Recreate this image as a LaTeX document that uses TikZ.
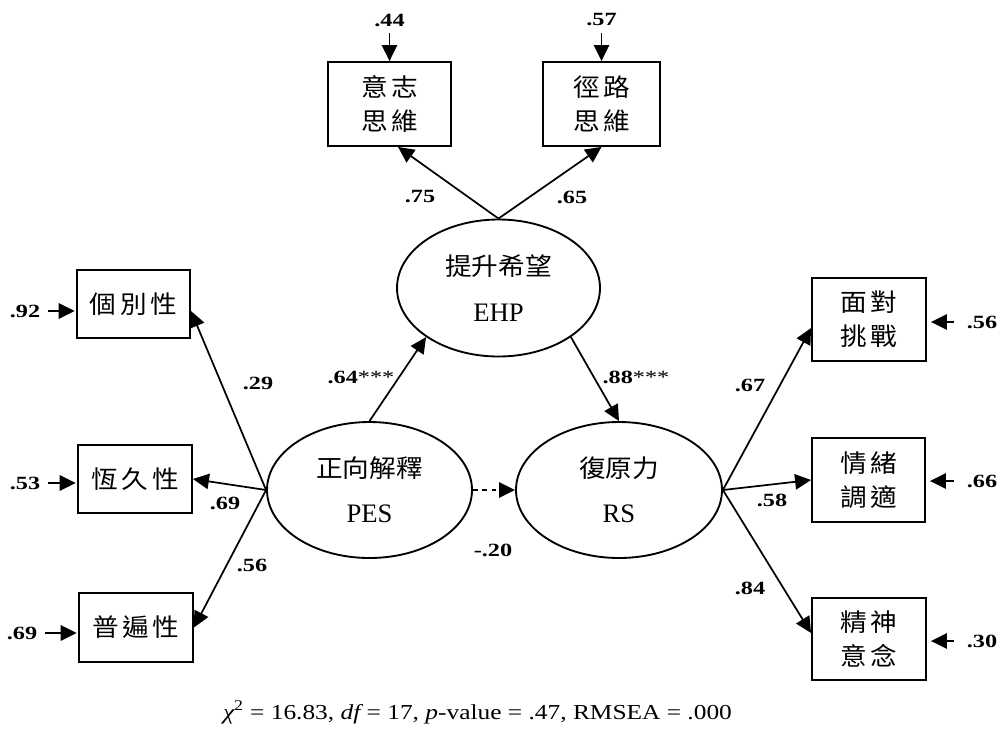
\documentclass[tikz,border=0pt]{standalone}
\usepackage{fontspec}
\setmainfont{Liberation Serif}
\newfontfamily\cjk{Noto Sans CJK TC}[FakeStretch=1.08]
\newfontfamily\cjkbox{Noto Sans CJK TC}[FakeStretch=1.08,LetterSpace=15]
\newfontfamily\lblfont{Liberation Serif}[FakeStretch=1.3]
\newfontfamily\fitfont{Liberation Serif}[FakeStretch=1.19]
\usetikzlibrary{arrows.meta,shapes.geometric,calc}

\tikzset{
  obs/.style={draw, line width=1.4pt, inner sep=0pt, align=center,
    font=\cjkbox\fontsize{18.5}{25.5}\selectfont},
  lat/.style={draw, ellipse, line width=1.4pt, inner sep=0pt, align=center,
    font=\fontsize{20}{34}\selectfont},
  coef/.style={font=\lblfont\bfseries\fontsize{14}{16}\selectfont, inner sep=0pt},
  errlbl/.style={coef, inner sep=5pt},
  arr/.style={-{Triangle[length=12pt,width=11.5pt]}, line width=1.3pt},
}

\begin{document}
\begin{tikzpicture}[x=0.75pt, y=-0.75pt]
\useasboundingbox (0,0) rectangle (1000,729);

% latent variables
\node[lat, minimum width=152.25pt, minimum height=102.75pt] (ehp) at (498.5,288) {{\cjk\fontsize{18.5}{34}\selectfont 提升希望}\\EHP};
\node[lat, minimum width=153.75pt, minimum height=102pt] (pes) at (369.5,490) {{\cjk\fontsize{18.5}{34}\selectfont 正向解釋}\\PES};
\node[lat, minimum width=154.5pt, minimum height=102pt] (rs) at (619,490) {{\cjk\fontsize{18.5}{34}\selectfont 復原力}\\RS};

% indicators of EHP
\node[obs, minimum width=92.25pt, minimum height=63pt] (i1) at (389.5,104) {意志\\思維};
\node[obs, minimum width=87.75pt, minimum height=63pt] (i2) at (601.5,104) {徑路\\思維};

% indicators of PES
\node[obs, minimum width=84.75pt, minimum height=51pt] (l1) at (133.5,304) {個別性};
\node[obs, minimum width=85.5pt, minimum height=51pt] (l2) at (135,479) {恆久性};
\node[obs, minimum width=85.5pt, minimum height=51.75pt] (l3) at (136,627.5) {普遍性};

% indicators of RS
\node[obs, minimum width=85.5pt, minimum height=62.25pt] (r1) at (869,319.5) {面對\\挑戰};
\node[obs, minimum width=84.75pt, minimum height=63pt] (r2) at (868.5,480) {情緒\\調適};
\node[obs, minimum width=85.5pt, minimum height=61.5pt] (r3) at (869,639) {精神\\意念};

% error terms
\node[errlbl] (e44) at (389.5,20) {.44};
\node[errlbl] (e57) at (601.5,20) {.57};
\node[errlbl] (e92) at (25,311) {.92};
\node[errlbl] (e53) at (25,483) {.53};
\node[errlbl] (e69) at (22,633) {.69};
\node[errlbl] (e56) at (982,322) {.56};
\node[errlbl] (e66) at (982,481) {.66};
\node[errlbl] (e30) at (982,641) {.30};

\draw[arr] (e44.south) -- (e44.south |- i1.north);
\draw[arr] (e57.south) -- (e57.south |- i2.north);
\draw[arr, shorten <=1pt, shorten >=1pt] (e92.east) -- (e92.east -| l1.west);
\draw[arr, shorten <=1pt, shorten >=1pt] (e53.east) -- (e53.east -| l2.west);
\draw[arr, shorten <=1pt, shorten >=1pt] (e69.east) -- (e69.east -| l3.west);
\draw[arr, shorten <=4.5pt, shorten >=3pt] (e56.west) -- (e56.west -| r1.east);
\draw[arr, shorten <=4.5pt, shorten >=3pt] (e66.west) -- (e66.west -| r2.east);
\draw[arr, shorten <=4.5pt, shorten >=3pt] (e30.west) -- (e30.west -| r3.east);

% loadings
\draw[arr] (ehp.north) -- ([xshift=6.4pt]i1.south);
\draw[arr] (ehp.north) -- (i2.south);
\draw[arr] (pes.west) -- ([yshift=-5.2pt]l1.east);
\draw[arr] (pes.west) -- (l2.east);
\draw[arr] (pes.west) -- (l3.east);
\draw[arr] (rs.east) -- ([yshift=-6.4pt]r1.west);
\draw[arr] (rs.east) -- (r2.west);
\draw[arr] (rs.east) -- ([yshift=4.5pt]r3.west);

% structural paths
\draw[arr] (pes.north) -- (ehp.south west);
\draw[arr] (ehp.south east) -- (rs.north);
\draw[arr, dash pattern=on 3.5pt off 3.5pt] (pes.east) -- (rs.west);

% coefficients
\node[coef] (c75) at (420,197) {.75};
\node[coef] (c65) at (572,197) {.65};
\node[coef] (c64) at (361,377) {.64{\mdseries***}};
\node[coef] (c88) at (636,377) {.88{\mdseries***}};
\node[coef] (c29) at (258,383) {.29};
\node[coef] (c69) at (225,503) {.69};
\node[coef] (c56) at (252,565) {.56};
\node[coef] (c67) at (750,385) {.67};
\node[coef] (c58) at (772,500) {.58};
\node[coef] (c84) at (750,588) {.84};
\node[coef] (c20) at (493,550) {-.20};

% fit statistics
\node[anchor=base, inner sep=0pt, font=\fitfont\fontsize{16}{18}\selectfont] (fit) at (477.5,719)
  {{\itshape χ}\textsuperscript{2} = 16.83, {\itshape df} = 17, {\itshape p}-value = .47, RMSEA = .000};
\end{tikzpicture}
\end{document}
